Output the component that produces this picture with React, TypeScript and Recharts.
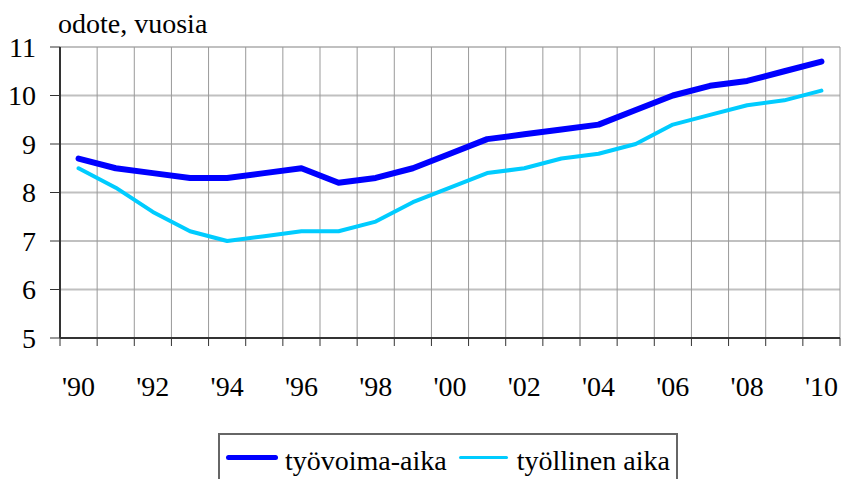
import React from 'react';
import { LineChart, Line, XAxis, YAxis, CartesianGrid, Legend } from 'recharts';

const years = [1990, 1991, 1992, 1993, 1994, 1995, 1996, 1997, 1998, 1999, 2000, 2001, 2002, 2003, 2004, 2005, 2006, 2007, 2008, 2009, 2010];
const tyovoimaAika = [8.7, 8.5, 8.4, 8.3, 8.3, 8.4, 8.5, 8.2, 8.3, 8.5, 8.8, 9.1, 9.2, 9.3, 9.4, 9.7, 10.0, 10.2, 10.3, 10.5, 10.7];
const tyollinenAika = [8.5, 8.1, 7.6, 7.2, 7.0, 7.1, 7.2, 7.2, 7.4, 7.8, 8.1, 8.4, 8.5, 8.7, 8.8, 9.0, 9.4, 9.6, 9.8, 9.9, 10.1];
const labelYears = [1990, 1992, 1994, 1996, 1998, 2000, 2002, 2004, 2006, 2008, 2010];
const yTicks = [5, 6, 7, 8, 9, 10, 11];

const SERIES = [
  { key: 'tv', name: 'työvoima-aika', color: '#0000ff', width: 6, legendWidth: 5, swatch: 52, gap: 7, after: 12 },
  { key: 'tl', name: 'työllinen aika', color: '#00ccff', width: 4, legendWidth: 3, swatch: 49, gap: 9, after: 0 },
];

const FONT = '"Liberation Serif", "Times New Roman", serif';

const data = years.map((year, i) => ({ year, tv: tyovoimaAika[i], tl: tyollinenAika[i] }));
// boundaries between the years, for the vertical grid and the tick marks
const boundaryTicks = [...years.map((y) => y - 0.5), years[years.length - 1] + 0.5];
const domain = [boundaryTicks[0], boundaryTicks[boundaryTicks.length - 1]];

const LegendBox = () => (
  <div
    style={{
      width: 460,
      height: 60,
      border: '2px solid #666',
      boxSizing: 'border-box',
      display: 'flex',
      alignItems: 'flex-start',
      fontFamily: FONT,
      fontSize: 28,
      lineHeight: '32px',
      color: '#000',
      padding: '10px 0 0 6px',
      background: '#fff',
      whiteSpace: 'nowrap',
    }}
  >
    {SERIES.map((s) => (
      <div key={s.key} style={{ display: 'flex', alignItems: 'flex-start', marginRight: s.after }}>
        <div
          style={{
            width: s.swatch,
            height: s.legendWidth,
            borderRadius: s.legendWidth,
            background: s.color,
            marginRight: s.gap,
            marginTop: 13 - Math.round(s.legendWidth / 2),
          }}
        />
        <span>{s.name}</span>
      </div>
    ))}
  </div>
);

export default function App() {
  return (
    <div style={{ position: 'absolute', left: 0, top: 0, width: 842, height: 479, background: '#fff', overflow: 'hidden' }}>
      <div style={{ position: 'absolute', left: 58, top: 10, fontFamily: FONT, fontSize: 28, lineHeight: '28px', color: '#000' }}>
        odote, vuosia
      </div>
      <LineChart width={842} height={479} data={data} margin={{ top: 47, right: 2, bottom: 0, left: 0 }}>
        <CartesianGrid horizontal={true} vertical={false} stroke="#c0c0c0" strokeWidth={2} yAxisId="y" />
        <CartesianGrid horizontal={false} vertical={true} stroke="#999" strokeWidth={1} xAxisId="grid" yAxisId="y" />
        <XAxis
          xAxisId="grid"
          dataKey="year"
          type="number"
          domain={domain}
          ticks={boundaryTicks}
          allowDataOverflow
          height={12}
          tickSize={8}
          tickFormatter={() => ''}
          axisLine={{ stroke: '#333', strokeWidth: 2 }}
          tickLine={{ stroke: '#333', strokeWidth: 1 }}
        />
        <XAxis
          xAxisId="lbl"
          dataKey="year"
          type="number"
          domain={domain}
          ticks={labelYears}
          allowDataOverflow
          height={129}
          axisLine={false}
          tickLine={false}
          tickSize={0}
          tickMargin={26}
          tickFormatter={(v: number) => "'" + String(v).slice(2)}
          tick={{ fontFamily: FONT, fontSize: 28, fill: '#000' }}
        />
        <YAxis
          yAxisId="y"
          domain={[5, 11]}
          ticks={yTicks}
          width={60}
          tickSize={10}
          tickMargin={14}
          axisLine={{ stroke: '#333', strokeWidth: 2 }}
          tickLine={{ stroke: '#333', strokeWidth: 1 }}
          tick={{ fontFamily: FONT, fontSize: 28, fill: '#000' }}
        />
        {SERIES.map((s) => (
          <Line
            key={s.key}
            xAxisId="lbl"
            yAxisId="y"
            dataKey={s.key}
            name={s.name}
            type="linear"
            stroke={s.color}
            strokeWidth={s.width}
            strokeLinecap="round"
            strokeLinejoin="round"
            dot={false}
            activeDot={false}
            isAnimationActive={false}
          />
        ))}
        <Legend
          layout="horizontal"
          verticalAlign="middle"
          align="center"
          content={() => <LegendBox />}
          wrapperStyle={{ left: 218, top: 433, width: 460, height: 60 }}
        />
      </LineChart>
    </div>
  );
}
